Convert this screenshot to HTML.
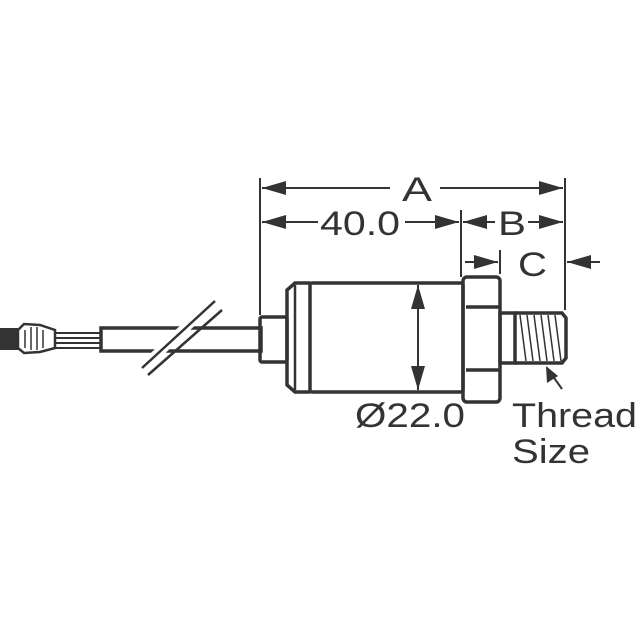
<!DOCTYPE html>
<html><head><style>body{margin:0;background:#fff}svg{display:block}</style></head><body>
<svg width="640" height="640" viewBox="0 0 640 640" xmlns="http://www.w3.org/2000/svg">
<rect width="640" height="640" fill="#fff"/>
<g stroke="#333" fill="none" stroke-width="3.5">
<rect x="0" y="328" width="18" height="22" fill="#333" stroke="none"/>
<path d="M18 330 L24 324 L40 325 L55 330 L55 348 L40 352 L24 353 L18 348 Z" stroke-width="2.5"/>
<g stroke-width="1.5"><line x1="25" y1="330" x2="25" y2="348"/><line x1="31" y1="327" x2="31" y2="350"/><line x1="37" y1="327" x2="37" y2="350"/><line x1="43" y1="330" x2="43" y2="348"/></g>
<g stroke-width="2"><line x1="55" y1="333" x2="100" y2="333"/><line x1="55" y1="338" x2="100" y2="338"/><line x1="55" y1="343" x2="100" y2="343"/><line x1="55" y1="348" x2="100" y2="348"/></g>
<rect x="101" y="328" width="160" height="23"/>
<line x1="142" y1="368" x2="215" y2="300" stroke="#fff" stroke-width="10"/>
<line x1="142" y1="368" x2="215" y2="301" stroke-width="2.5"/>
<line x1="148" y1="375" x2="222" y2="310" stroke-width="2.5"/>
<rect x="260" y="317" width="27" height="45" rx="2"/>
<path d="M310 283 L295 283 L287 290 L287 385 L295 392 L310 392"/>
<line x1="295" y1="285" x2="295" y2="390" stroke-width="2.5"/>
<rect x="310" y="283" width="153" height="109" rx="2"/>
<rect x="463" y="277" width="37" height="125" rx="4"/>
<line x1="466" y1="307" x2="500" y2="307"/>
<line x1="466" y1="370" x2="500" y2="370"/>
<rect x="500" y="313" width="15" height="50"/>
<path d="M515 313 L562 313 L566 318 L566 358 L562 363 L515 363"/>
<g stroke-width="1.5"><line x1="520" y1="315" x2="526" y2="361"/><line x1="527" y1="315" x2="533" y2="361"/><line x1="534" y1="315" x2="540" y2="361"/><line x1="541" y1="315" x2="547" y2="361"/><line x1="548" y1="315" x2="554" y2="361"/><line x1="555" y1="315" x2="561" y2="361"/></g>
<g stroke-width="2">
<line x1="260" y1="178" x2="260" y2="315"/>
<line x1="461" y1="210" x2="461" y2="277"/>
<line x1="500" y1="250" x2="500" y2="274"/>
<line x1="565" y1="178" x2="565" y2="310"/>
<line x1="262" y1="188" x2="390" y2="188"/><line x1="440" y1="188" x2="563" y2="188"/>
<line x1="262" y1="222" x2="318" y2="222"/><line x1="405" y1="222" x2="459" y2="222"/>
<line x1="463" y1="222" x2="495" y2="222"/><line x1="528" y1="222" x2="563" y2="222"/>
<line x1="465" y1="262" x2="498" y2="262"/><line x1="567" y1="262" x2="600" y2="262"/>
<line x1="418" y1="285" x2="418" y2="390"/>
<line x1="547" y1="368" x2="562" y2="389"/>
</g>
</g>
<g fill="#333">
<polygon points="262,188 286,181 286,195"/><polygon points="563,188 539,181 539,195"/>
<polygon points="262,222 286,215 286,229"/><polygon points="459,222 435,215 435,229"/>
<polygon points="463,222 487,215 487,229"/><polygon points="563,222 539,215 539,229"/>
<polygon points="498,262 474,255 474,269"/><polygon points="567,262 591,255 591,269"/>
<polygon points="418,285 411,309 425,309"/><polygon points="418,390 411,366 425,366"/>
<polygon points="546,366 547,383 558,376"/>
</g>
<g font-family="Liberation Sans, sans-serif" font-size="34" fill="#333">
<text x="402" y="201" textLength="30" lengthAdjust="spacingAndGlyphs">A</text>
<text x="320" y="235" textLength="80" lengthAdjust="spacingAndGlyphs">40.0</text>
<text x="498" y="235" textLength="28" lengthAdjust="spacingAndGlyphs">B</text>
<text x="518" y="276" textLength="29" lengthAdjust="spacingAndGlyphs">C</text>
<text x="355" y="427" textLength="110" lengthAdjust="spacingAndGlyphs">Ø22.0</text>
<text x="512" y="427" textLength="125" lengthAdjust="spacingAndGlyphs">Thread</text>
<text x="512" y="463" textLength="78" lengthAdjust="spacingAndGlyphs">Size</text>
</g>
</svg>
</body></html>
